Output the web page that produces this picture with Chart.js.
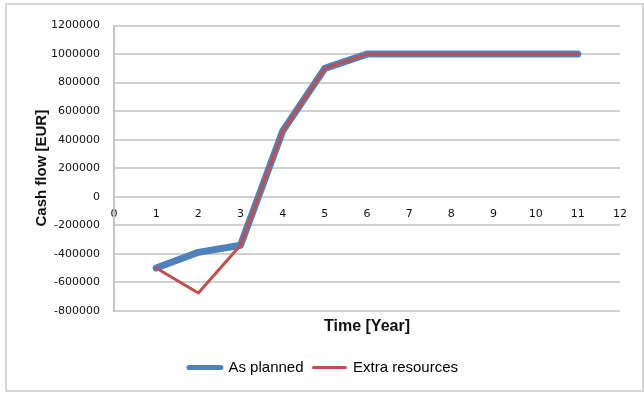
<!DOCTYPE html>
<html>
<head>
<meta charset="utf-8">
<script src="https://cdn.jsdelivr.net/npm/chart.js@4/dist/chart.umd.min.js"></script>
<style>
  html, body { margin: 0; padding: 0; background: #fff; }
  #frame {
    position: absolute; left: 5px; top: 3px;
    width: 639px; height: 389px;
    border: 2px solid #d6d6d6; box-sizing: border-box; background: #fff;
  }
  #chart { display: block; }
</style>
</head>
<body>
<div id="frame"><canvas id="chart" width="635" height="385"></canvas></div>
<script>
// Years 1..11 and yearly cash flow in EUR for the two scenarios
const years = [1, 2, 3, 4, 5, 6, 7, 8, 9, 10, 11];
const asPlanned = [-500000, -390000, -340000, 460000, 900000, 1000000, 1000000, 1000000, 1000000, 1000000, 1000000];
const extraResources = [-500000, -675000, -340000, 460000, 900000, 1000000, 1000000, 1000000, 1000000, 1000000, 1000000];

const seriesNames = ['As planned', 'Extra resources'];
const yTitle = 'Cash flow [EUR]';
const xTitle = 'Time [Year]';

const blue = '#4F81BD';
const red = '#C0504D';
const gridColor = '#d0d0d0';
const textColor = '#111111';

const toPoints = (vals) => years.map((x, i) => ({ x: x, y: vals[i] }));

new Chart(document.getElementById('chart'), {
  type: 'line',
  data: {
    datasets: [
      {
        label: seriesNames[0],
        data: toPoints(asPlanned),
        borderColor: blue,
        backgroundColor: blue,
        borderWidth: 7,
        borderCapStyle: 'round',
        borderJoinStyle: 'round',
        pointRadius: 0,
        tension: 0,
        order: 2
      },
      {
        label: seriesNames[1],
        data: toPoints(extraResources),
        borderColor: red,
        backgroundColor: red,
        borderWidth: 3,
        borderCapStyle: 'round',
        borderJoinStyle: 'round',
        pointRadius: 0,
        tension: 0,
        order: 1
      }
    ]
  },
  options: {
    responsive: false,
    animation: false,
    layout: { padding: { left: 20, right: 22, top: 16, bottom: 5 } },
    scales: {
      x: {
        type: 'linear',
        position: { y: 0 },
        min: 0,
        max: 12,
        ticks: {
          stepSize: 1,
          padding: 11,
          color: textColor,
          font: { family: 'DejaVu Sans', size: 11 }
        },
        grid: { display: false, drawTicks: false },
        border: { display: false }
      },
      xTitleAxis: {
        type: 'linear',
        axis: 'x',
        position: 'bottom',
        min: 0,
        max: 12,
        ticks: { display: false },
        grid: { display: false, drawTicks: false },
        border: { display: false },
        title: {
          display: true,
          text: xTitle,
          color: textColor,
          padding: { top: 6, bottom: 14 },
          font: { family: 'Liberation Sans', size: 16, weight: 'bold' }
        }
      },
      y: {
        type: 'linear',
        min: -800000,
        max: 1200000,
        afterFit: (scale) => { scale.width = 87; },
        ticks: {
          stepSize: 200000,
          padding: 14,
          color: textColor,
          font: { family: 'DejaVu Sans', size: 11 },
          callback: (v) => String(v)
        },
        grid: { color: gridColor, lineWidth: 2, drawTicks: false },
        border: { display: true, color: '#c4c4c4', width: 2 },
        title: {
          display: true,
          text: yTitle,
          color: textColor,
          padding: { top: 6 },
          font: { family: 'Liberation Sans', size: 15, weight: 'bold' }
        }
      }
    },
    plugins: {
      legend: {
        position: 'bottom',
        labels: {
          usePointStyle: true,
          pointStyleWidth: 32,
          padding: 10,
          color: textColor,
          font: { family: 'Liberation Sans', size: 15 },
          generateLabels: (chart) => chart.data.datasets.map((ds, i) => ({
            text: ds.label,
            fillStyle: ds.borderColor,
            strokeStyle: ds.borderColor,
            lineWidth: i === 0 ? 5 : 3,
            lineCap: 'round',
            pointStyle: 'line',
            hidden: false,
            datasetIndex: i
          }))
        }
      },
      tooltip: { enabled: false }
    }
  }
});
</script>
</body>
</html>
